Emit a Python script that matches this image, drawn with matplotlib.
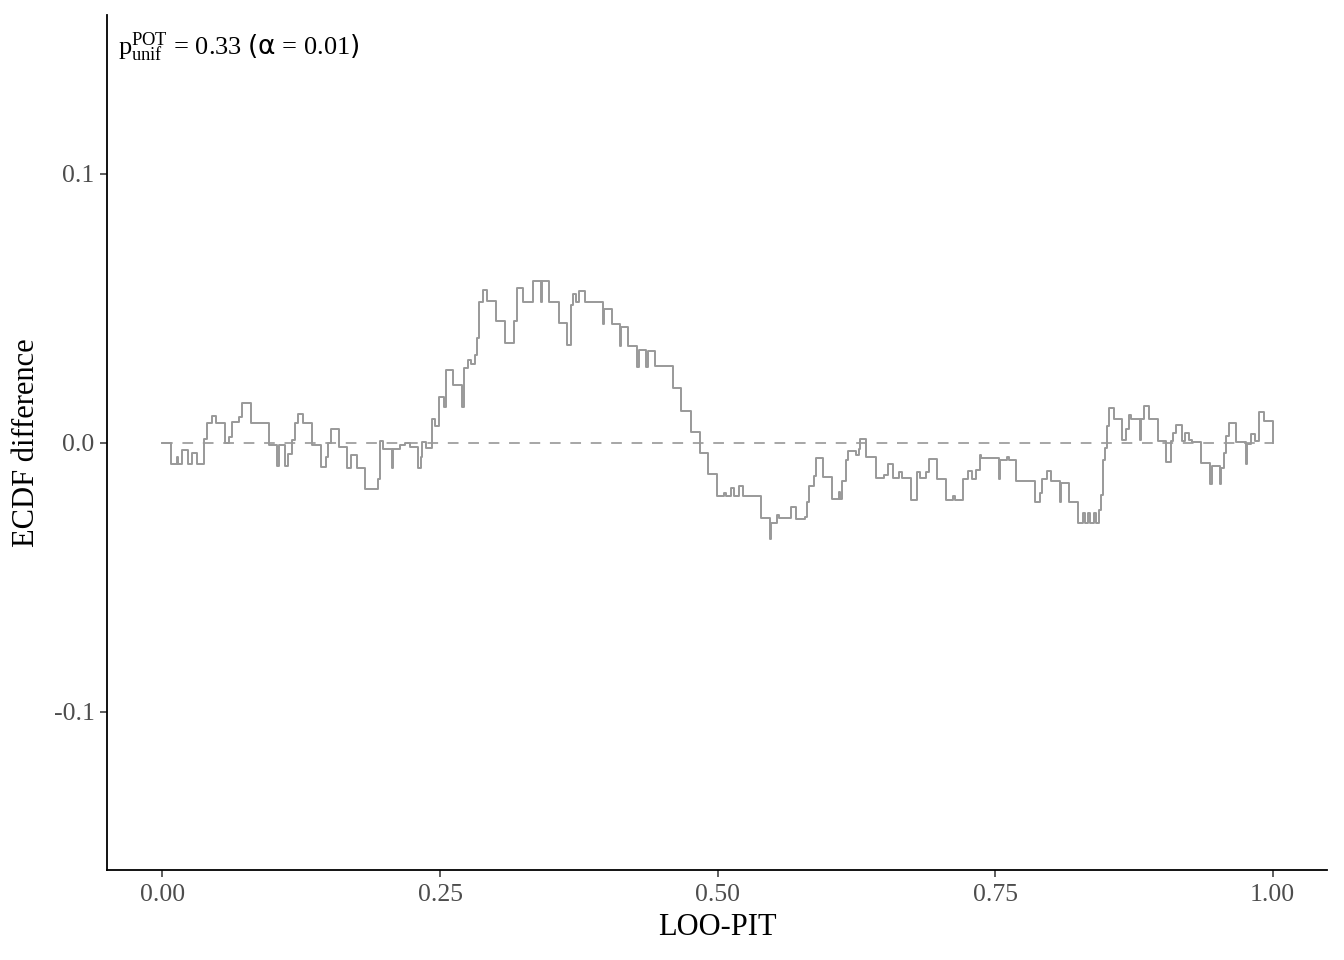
import matplotlib
matplotlib.use("Agg")
import matplotlib.pyplot as plt

# LOO-PIT step positions and ECDF difference values
pit = [0.0, 0.0078, 0.0129, 0.0144, 0.0174, 0.0234, 0.027, 0.0315, 0.0378, 0.040,
       0.045, 0.048, 0.0559, 0.060, 0.063, 0.0685, 0.0715, 0.0796, 0.0955, 0.103,
       0.1045, 0.1105, 0.1135, 0.1165, 0.119, 0.1225, 0.127, 0.1351, 0.143, 0.147,
       0.149, 0.152, 0.1586, 0.166, 0.170, 0.175, 0.1826, 0.194, 0.196, 0.199,
       0.2066, 0.2078, 0.214, 0.218, 0.223, 0.2306, 0.233,
       0.2336, 0.2375, 0.2426, 0.2456, 0.2495, 0.2535, 0.255, 0.2556, 0.2616, 0.270,
       0.2712, 0.2751, 0.2781, 0.2817, 0.2835, 0.285, 0.2886, 0.2925, 0.3006, 0.3087,
       0.3165, 0.3195, 0.3246, 0.3336, 0.3405, 0.3417, 0.3486, 0.3568, 0.3646, 0.3682,
       0.370, 0.3721, 0.3748, 0.3802, 0.3967, 0.3976, 0.4048, 0.4117, 0.4132, 0.4192,
       0.4276, 0.4288, 0.4357, 0.4372, 0.4438, 0.4598, 0.4673, 0.4757,
       0.4838, 0.4913, 0.4994, 0.5057, 0.5072, 0.5123, 0.5147, 0.5192, 0.5228, 0.5393,
       0.5468, 0.5483, 0.5535, 0.5553, 0.5664, 0.5709, 0.5784, 0.5805, 0.5823, 0.5865,
       0.5883, 0.5949, 0.6033, 0.6093, 0.6105, 0.6123, 0.6159, 0.6174, 0.6249, 0.6273,
       0.6285, 0.6339, 0.6423, 0.6495, 0.6535, 0.658, 0.6634, 0.6664, 0.6739, 0.6796,
       0.682, 0.688, 0.6904, 0.6976, 0.706, 0.712, 0.7141,
       0.721, 0.7255, 0.7294, 0.7324, 0.736, 0.7375, 0.7535, 0.7547, 0.7607, 0.7625,
       0.7691, 0.7856, 0.7901, 0.7925, 0.7967, 0.8006, 0.8081, 0.8096, 0.8165, 0.8246,
       0.8291, 0.8306, 0.8336, 0.8351, 0.8387, 0.8411, 0.8435, 0.8456, 0.8471, 0.8486,
       0.8507, 0.8526, 0.8568, 0.8646, 0.8676, 0.8706, 0.8727, 0.8802, 0.8814, 0.8838,
       0.8886, 0.8967, 0.9042, 0.9081, 0.9102, 0.9132, 0.9186, 0.9207, 0.9246, 0.9276,
       0.9357, 0.9438, 0.9456, 0.9523, 0.9538, 0.9559, 0.9577, 0.9607, 0.9673, 0.9757,
       0.9769, 0.9808, 0.9838, 0.9877, 0.9919, 1.0]

ecdf_diff = [0.0, -0.0079, -0.0052, -0.0079, -0.0027, -0.0079, -0.0037, -0.0079, 0.0016, 0.0074,
             0.0099, 0.0074, -0.0002, 0.0022, 0.0078, 0.0097, 0.0149, 0.0072, -0.0009, -0.0087,
             -0.0009, -0.0087, -0.004, 0.001, 0.0072, 0.0107, 0.0072, -0.0009, -0.0089, -0.0052,
             0.0, 0.0053, -0.0015, -0.0095, -0.0046, -0.0095, -0.017, -0.0133, 0.0007, -0.0021,
             -0.0095, -0.0021, -0.0009, -0.0002, -0.0015, -0.0095, -0.0052,
             0.0005, -0.002, 0.0088, 0.0061, 0.0172, 0.0135, 0.0203, 0.0271, 0.0216, 0.0135,
             0.028, 0.0309, 0.0294, 0.0327, 0.0389, 0.0525, 0.0569, 0.0529, 0.0451, 0.0371,
             0.0451, 0.0575, 0.0525, 0.060, 0.0525, 0.060, 0.0525, 0.0447, 0.0364, 0.0513,
             0.0554, 0.0522, 0.0566, 0.0522, 0.0441, 0.0497, 0.0441, 0.0361, 0.0432, 0.0361,
             0.0281, 0.0346, 0.0281, 0.0343, 0.0284, 0.0203, 0.012, 0.0042,
             -0.0038, -0.0116, -0.0197, -0.0185, -0.0197, -0.0169, -0.0197, -0.0162, -0.0197, -0.028,
             -0.0358, -0.0299, -0.0268, -0.028, -0.0239, -0.0283, -0.0274, -0.0218, -0.0162, -0.0123,
             -0.0057, -0.0125, -0.0207, -0.0181, -0.0207, -0.0141, -0.0063, -0.0032, -0.0045, -0.0024,
             0.0014, -0.0051, -0.0129, -0.0119, -0.0078, -0.0129, -0.0107, -0.0131, -0.0212, -0.011,
             -0.0131, -0.0107, -0.0059, -0.0134, -0.0212, -0.0197, -0.0212,
             -0.0136, -0.0103, -0.0136, -0.0099, -0.0046, -0.0055, -0.0136, -0.0062, -0.0053, -0.0062,
             -0.014, -0.0219, -0.0186, -0.0136, -0.0103, -0.0143, -0.0219, -0.0149, -0.0219, -0.0297,
             -0.026, -0.0297, -0.026, -0.0297, -0.026, -0.0297, -0.0248, -0.0192, -0.0062, -0.0019,
             0.0062, 0.0128, 0.009, 0.0012, 0.005, 0.0103, 0.009, 0.0009, 0.009, 0.0136,
             0.009, 0.0006, -0.0071, 0.0006, 0.0037, 0.0066, 0.0006, 0.0037, 0.0009, 0.0004,
             -0.0074, -0.0152, -0.0087, -0.0152, -0.0093, -0.0037, 0.0025, 0.0072, 0.0004, -0.0078,
             -0.0004, 0.0033, 0.0006, 0.0115, 0.0083, 0.0]

x_ticks = [0.0, 0.25, 0.5, 0.75, 1.0]
x_labels = ["0.00", "0.25", "0.50", "0.75", "1.00"]
y_ticks = [-0.1, 0.0, 0.1]
y_labels = ["-0.1", "0.0", "0.1"]

plt.rcParams['font.family'] = ['Liberation Serif', 'DejaVu Sans']
plt.rcParams['mathtext.fontset'] = 'custom'
plt.rcParams['mathtext.rm'] = 'Liberation Serif'
plt.rcParams['mathtext.it'] = 'Liberation Serif'
plt.rcParams['mathtext.sf'] = 'DejaVu Sans'

fig = plt.figure(figsize=(13.44, 9.6), dpi=100)
ax = fig.add_axes([0.0796, 0.0938, 0.9078, 0.8906])

ax.plot([0, 1], [0, 0], color="#a6a6a6", lw=1.4, ls=(0, (5.5, 5)))
ax.step(pit, ecdf_diff, where="post", color="#999999", lw=1.4)

ax.set_xlim(-0.05, 1.049)
ax.set_ylim(-0.1587, 0.159)
ax.set_xticks(x_ticks)
ax.set_xticklabels(x_labels)
ax.set_yticks(y_ticks)
ax.set_yticklabels(y_labels)

for s in ["top", "right"]:
    ax.spines[s].set_visible(False)
for s in ["left", "bottom"]:
    ax.spines[s].set_linewidth(1.3)
ax.tick_params(axis="both", labelsize=18.5, labelcolor="#4d4d4d", color="#333333",
               length=5, width=1.1)
ax.tick_params(axis="x", pad=5)
ax.tick_params(axis="y", pad=4)

ax.set_xlabel("LOO-PIT", fontsize=22, labelpad=5)
ax.set_ylabel("ECDF difference", fontsize=22, labelpad=9)

ax.text(0.009, 0.982,
        r"$\mathrm{p_{unif}^{POT}}$ = 0.33 $\mathsf{(α}$ = 0.01$\mathsf{)}$",
        transform=ax.transAxes, ha="left", va="top", fontsize=19)

fig.savefig("out.png", dpi=100)
